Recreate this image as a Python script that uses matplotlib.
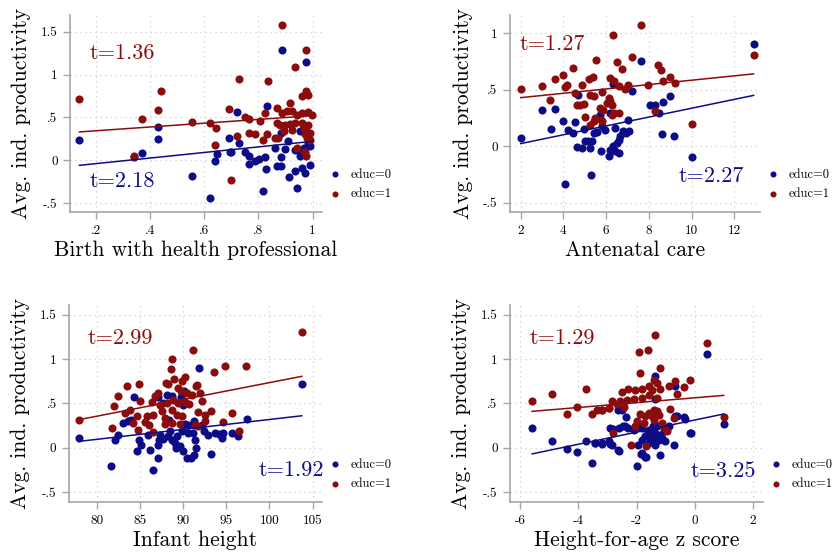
import numpy as np
import matplotlib
matplotlib.use("Agg")
from matplotlib import pyplot as plt

plt.rcParams['font.family'] = ['cmr10', 'DejaVu Serif']
plt.rcParams['axes.unicode_minus'] = False

navy = '#0c0c88'
maroon = '#8a0c0c'

# ---- panel 1: birth with health professional
p1_x0 = [0.831, 0.723, 0.693, 0.730, 0.700, 0.749, 0.767, 0.767, 0.788, 0.804, 0.825, 0.829, 0.862, 0.868,
         0.883, 0.883, 0.899, 0.911, 0.936, 0.952, 0.954, 0.967, 0.982, 0.989, 0.961, 0.936, 0.914, 0.942,
         0.973, 0.989, 0.817, 0.883, 0.954, 0.973, 0.985, 0.973, 0.889, 0.975, 0.14, 0.43, 0.43, 0.37,
         0.34, 0.555, 0.62, 0.64, 0.647, 0.696]
p1_y0 = [0.635, 0.56, 0.26, 0.20, 0.10, 0.10, 0.05, -0.045, -0.014, 0.013, 0.032, -0.10, 0.14, -0.073,
         -0.073, 0.032, 0.133, 0.226, 0.12, 0.044, 0.094, 0.14, 0.30, 0.16, -0.092, -0.13, -0.197, -0.325,
         -0.15, -0.053, -0.364, 0.316, 0.335, 0.355, 0.20, 0.063, 1.287, 1.151, 0.24, 0.39, 0.245, 0.08,
         0.04, -0.18, -0.44, -0.015, 0.075, 0.10]
p1_x1 = [0.889, 0.975, 0.937, 0.730, 0.834, 0.975, 0.961, 0.985, 0.918, 0.868, 0.887, 0.905, 0.924, 0.942,
         0.961, 0.985, 0.998, 0.693, 0.751, 0.767, 0.807, 0.825, 0.868, 0.881, 0.899, 0.918, 0.936, 0.961,
         0.967, 0.985, 0.991, 0.764, 0.788, 0.723, 0.817, 0.831, 0.860, 0.874, 0.893, 0.924, 0.973, 0.979,
         0.991, 0.942, 0.973, 0.977, 0.700, 0.14, 0.44, 0.43, 0.37, 0.34, 0.555, 0.62, 0.645, 0.64]
p1_y1 = [1.58, 1.29, 1.09, 0.945, 0.93, 0.81, 0.75, 0.76, 0.665, 0.615, 0.55, 0.57, 0.58, 0.53,
         0.55, 0.56, 0.53, 0.595, 0.50, 0.48, 0.46, 0.55, 0.43, 0.41, 0.41, 0.42, 0.43, 0.43,
         0.375, 0.41, 0.32, 0.32, 0.30, 0.285, 0.23, 0.31, 0.26, 0.26, 0.335, 0.355, 0.30, 0.26,
         0.24, 0.14, 0.095, 0.045, -0.236, 0.71, 0.81, 0.59, 0.48, 0.05, 0.44, 0.43, 0.38, 0.18]
p1_fit_x = [0.14, 1.0]
p1_fit0 = [-0.06, 0.22]
p1_fit1 = [0.33, 0.52]

# ---- panel 2: antenatal care
p2_x0 = [7.64, 6.31, 7.20, 4.70, 2.98, 3.61, 8.06, 8.30, 8.66, 9.00, 8.45, 3.97, 3.42, 4.55, 4.23, 4.47,
         4.94, 5.41, 5.56, 5.69, 5.80, 5.95, 6.19, 6.42, 7.00, 6.78, 6.94, 7.05, 6.66, 6.58, 6.50, 6.34,
         6.19, 6.42, 6.62, 6.11, 5.02, 5.17, 5.33, 5.25, 4.86, 4.62, 5.77, 8.61, 9.16, 5.28, 4.08, 2.0,
         12.9, 10.02]
p2_y0 = [0.756, 0.553, 0.491, 0.45, 0.324, 0.33, 0.368, 0.368, 0.391, 0.441, 0.29, 0.221, 0.156, 0.215,
         0.147, 0.118, 0.156, 0.118, 0.127, 0.28, 0.177, 0.147, 0.294, 0.162, 0.236, 0.133, 0.118, 0.133,
         0.088, 0.059, 0.03, 0.0, -0.03, -0.044, -0.059, -0.088, 0.044, 0.044, 0.044, -0.014, -0.014,
         -0.009, -0.038, 0.109, 0.088, -0.25, -0.33, 0.074, 0.90, -0.09]
p2_x1 = [7.64, 6.31, 5.53, 4.47, 3.97, 3.61, 2.98, 6.53, 6.73, 7.20, 8.41, 8.56, 8.97, 8.66, 9.20, 7.98,
         7.02, 6.86, 6.58, 6.19, 6.37, 5.22, 5.37, 4.86, 4.19, 4.08, 4.55, 5.25, 5.41, 5.80, 6.03, 6.11,
         6.19, 6.27, 5.84, 5.69, 4.94, 4.62, 4.78, 3.38, 5.02, 5.41, 5.48, 5.75, 6.37, 6.62, 6.27, 5.25,
         5.80, 8.30, 10.02, 12.9, 2.0]
p2_y1 = [1.074, 0.98, 0.765, 0.69, 0.633, 0.594, 0.535, 0.744, 0.686, 0.79, 0.721, 0.677, 0.609, 0.58,
         0.56, 0.544, 0.544, 0.509, 0.535, 0.603, 0.574, 0.597, 0.612, 0.544, 0.538, 0.52, 0.471, 0.456,
         0.441, 0.48, 0.383, 0.427, 0.397, 0.368, 0.324, 0.338, 0.374, 0.368, 0.362, 0.412, 0.256, 0.221,
         0.25, 0.236, 0.294, 0.294, 0.28, 0.191, 0.227, 0.309, 0.20, 0.81, 0.509]
p2_fit_x = [2.0, 12.9]
p2_fit0 = [0.024, 0.45]
p2_fit1 = [0.43, 0.64]

# ---- panel 3: infant height
p3_x0 = [91.87, 84.37, 83.10, 83.67, 83.98, 82.52, 82.13, 81.67, 84.64, 85.14, 84.95, 86.0, 86.19, 87.15,
         86.57, 87.15, 87.23, 87.35, 87.73, 88.23, 88.50, 88.70, 89.08, 89.20, 89.66, 90.05, 90.44, 90.94,
         91.33, 91.48, 91.21, 91.40, 90.55, 89.86, 89.28, 90.24, 90.63, 91.33, 92.18, 92.48, 92.95, 93.26,
         93.72, 94.57, 94.69, 95.65, 96.35, 97.39, 87.15, 87.73, 88.12, 88.70, 90.17, 89.78, 90.05, 88.39,
         78.0, 103.76, 94.2]
p3_y0 = [0.898, 0.571, 0.278, 0.297, 0.316, 0.146, 0.09, -0.21, -0.034, 0.033, 0.09, 0.146, -0.023, -0.117,
         -0.248, 0.033, 0.09, 0.146, 0.101, 0.128, 0.191, 0.09, 0.052, -0.004, 0.015, -0.034, -0.117, -0.117,
         -0.079, -0.004, 0.165, 0.09, 0.165, 0.184, 0.128, 0.267, 0.259, 0.297, 0.259, 0.191, 0.146, -0.071,
         0.165, 0.109, 0.165, 0.165, 0.128, 0.327, 0.567, 0.504, 0.598, 0.579, 0.635, 0.567, 0.485, 0.316,
         0.11, 0.72, 0.155]
p3_x1 = [91.13, 88.77, 88.62, 94.88, 97.31, 93.64, 90.24, 89.01, 89.93, 88.04, 88.31, 84.95, 83.56, 91.67,
         91.48, 91.98, 91.09, 90.51, 89.47, 89.74, 87.07, 86.77, 82.52, 85.03, 86.38, 87.35, 88.12, 88.89,
         89.39, 90.24, 90.71, 92.18, 82.05, 83.87, 83.29, 84.64, 85.80, 86.57, 87.54, 87.93, 88.70, 89.28,
         89.86, 91.79, 92.56, 93.26, 95.65, 92.56, 91.40, 87.93, 88.70, 84.25, 85.61, 86.11, 84.83, 89.66,
         81.74, 96.43, 86.57, 91.79, 78.0, 103.76, 94.6]
p3_y1 = [1.105, 1.0, 0.891, 0.917, 0.917, 0.853, 0.793, 0.774, 0.748, 0.729, 0.718, 0.722, 0.699, 0.71,
         0.692, 0.616, 0.59, 0.616, 0.673, 0.643, 0.616, 0.579, 0.579, 0.53, 0.515, 0.485, 0.504, 0.541,
         0.504, 0.515, 0.492, 0.53, 0.474, 0.428, 0.391, 0.353, 0.353, 0.365, 0.41, 0.334, 0.428, 0.372,
         0.353, 0.402, 0.372, 0.41, 0.391, 0.297, 0.259, 0.267, 0.278, 0.278, 0.289, 0.259, 0.203, 0.267,
         0.222, 0.184, 0.176, 0.241, 0.31, 1.30, 0.29]
p3_fit_x = [77.95, 103.76]
p3_fit0 = [0.071, 0.36]
p3_fit1 = [0.316, 0.805]

# ---- panel 4: height-for-age z score
p4_x0 = [-1.381, -0.67, -1.38, -2.367, -2.619, -0.613, -0.384, -2.905, -2.596, -2.447, -2.275, -2.069,
         -1.931, -1.817, -1.564, -1.45, -1.301, -1.072, -0.9, -1.61, -1.473, -1.358, -1.186, -1.702, -1.53,
         -1.415, -1.243, -1.129, -1.014, -1.817, -1.587, -1.358, -1.954, -0.728, -0.155, -1.817, -1.702,
         -1.186, -1.988, -2.619, -3.192, -2.905, -3.42, -5.58, -4.89, -4.40, -4.03, -3.74, -3.53, -3.42,
         -3.19, -2.94, -2.85, -2.6, -2.4, -2.5, 0.42, 1.0, -0.13, -0.68, -0.34, -1.85, -1.68, -2.81]
p4_y0 = [0.805, 0.692, 0.55, 0.346, 0.421, 0.361, 0.346, 0.222, 0.222, 0.241, 0.222, 0.203, 0.241, 0.222,
         0.203, 0.241, 0.248, 0.185, 0.248, 0.166, 0.147, 0.166, 0.147, 0.128, 0.109, 0.098, 0.091, 0.109,
         0.072, 0.083, 0.053, 0.034, 0.034, 0.034, 0.166, -0.06, -0.105, -0.079, -0.21, -0.03, 0.046, 0.046,
         0.053, 0.22, 0.08, -0.015, -0.05, 0.08, -0.17, 0.05, 0.05, 0.08, 0.03, -0.04, 0.25, 0.43, 1.06,
         0.27, 0.16, 0.36, 0.32, -0.07, -0.11, 0.21]
p4_x1 = [-1.381, -1.931, -1.61, -1.186, -1.874, -0.67, -0.384, -0.155, -0.877, -1.415, -1.301, -1.587,
         -1.473, -1.186, -1.817, -2.046, -2.275, -2.504, -2.069, -1.817, -1.587, -1.301, -2.332, -2.561,
         -2.848, -2.676, -2.412, -2.94, -3.192, -3.364, -0.842, -1.587, -1.415, -1.301, -1.243, -1.473,
         -1.702, -1.874, -0.728, -1.988, -1.759, -1.415, -1.129, -2.046, -1.072, -0.957, -1.679, -2.183,
         -5.58, -4.89, -4.40, -4.03, -3.74, -3.53, -3.19, -2.94, -2.81, 0.42, 1.0, -0.62]
p4_y1 = [1.275, 1.079, 1.098, 0.899, 0.842, 0.756, 0.685, 0.76, 0.692, 0.76, 0.73, 0.692, 0.655, 0.662,
         0.666, 0.655, 0.666, 0.628, 0.553, 0.561, 0.598, 0.561, 0.542, 0.523, 0.523, 0.497, 0.459, 0.448,
         0.429, 0.429, 0.437, 0.392, 0.429, 0.41, 0.373, 0.354, 0.354, 0.38, 0.335, 0.297, 0.279, 0.316,
         0.279, 0.248, 0.222, 0.185, 0.015, 0.034, 0.53, 0.61, 0.38, 0.46, 0.66, 0.38, 0.43, 0.45, 0.16,
         1.18, 0.35, 0.61]
p4_fit_x = [-5.58, 0.99]
p4_fit0 = [-0.07, 0.38]
p4_fit1 = [0.41, 0.59]

xlabels = ['Birth with health professional', 'Antenatal care', 'Infant height', 'Height-for-age z score']
t_red = ['t=1.36', 't=1.27', 't=2.99', 't=1.29']
t_blue = ['t=2.18', 't=2.27', 't=1.92', 't=3.25']

xticks = [[0.2, 0.4, 0.6, 0.8, 1.0], [2, 4, 6, 8, 10, 12], [80, 85, 90, 95, 100, 105], [-6, -4, -2, 0, 2]]
xticklabels = [['.2', '.4', '.6', '.8', '1'], ['2', '4', '6', '8', '10', '12'],
               ['80', '85', '90', '95', '100', '105'], ['-6', '-4', '-2', '0', '2']]
yticks = [[-0.5, 0, 0.5, 1, 1.5], [-0.5, 0, 0.5, 1], [-0.5, 0, 0.5, 1, 1.5], [-0.5, 0, 0.5, 1, 1.5]]
yticklabels = [['-.5', '0', '.5', '1', '1.5'], ['-.5', '0', '.5', '1'],
               ['-.5', '0', '.5', '1', '1.5'], ['-.5', '0', '.5', '1', '1.5']]

fig = plt.figure(figsize=(8.39, 5.57), dpi=100)

# axes boxes in pixels: left, top, right, bottom
boxes = [(70, 15, 322, 212), (510, 15, 760, 212), (69, 305, 322, 502), (510, 305, 763, 502)]
xlims = [(0.105, 1.035), (1.5, 13.2), (76.8, 106.1), (-6.34, 2.34)]
ylims = [(-0.605, 1.695), (-0.58, 1.16), (-0.613, 1.61), (-0.613, 1.61)]
tpos_red = [(0.179, 1.25), (1.97, 0.90), (78.9, 1.24), (-5.66, 1.24)]
tpos_blue = [(0.179, -0.25), (9.39, -0.265), (98.75, -0.256), (-0.13, -0.265)]

panels = [
    (p1_x0, p1_y0, p1_x1, p1_y1, p1_fit_x, p1_fit0, p1_fit1),
    (p2_x0, p2_y0, p2_x1, p2_y1, p2_fit_x, p2_fit0, p2_fit1),
    (p3_x0, p3_y0, p3_x1, p3_y1, p3_fit_x, p3_fit0, p3_fit1),
    (p4_x0, p4_y0, p4_x1, p4_y1, p4_fit_x, p4_fit0, p4_fit1),
]

W, H = 839, 557
for i, (x0, y0, x1, y1, fx, f0, f1) in enumerate(panels):
    l, t, r, b = boxes[i]
    ax = fig.add_axes([l / W, 1 - b / H, (r - l) / W, (b - t) / H])
    ax.scatter(x0, y0, s=34, color=navy, linewidths=0, label='educ=0', zorder=3)
    ax.scatter(x1, y1, s=34, color=maroon, linewidths=0, label='educ=1', zorder=3)
    ax.plot(fx, f1, color=maroon, lw=1.1, zorder=4)
    ax.plot(fx, f0, color=navy, lw=1.1, zorder=4)
    ax.set_xlim(*xlims[i])
    ax.set_ylim(*ylims[i])
    ax.set_xticks(xticks[i])
    ax.set_xticklabels(xticklabels[i])
    ax.set_yticks(yticks[i])
    ax.set_yticklabels(yticklabels[i])
    ax.grid(True, linestyle=(0, (1, 3)), color='#cfcfcf', linewidth=0.9)
    ax.set_axisbelow(True)
    for sp in ['top', 'right']:
        ax.spines[sp].set_visible(False)
    for sp in ['left', 'bottom']:
        ax.spines[sp].set_color('#a5a5a5')
        ax.spines[sp].set_linewidth(1.2)
    ax.tick_params(direction='out', length=5, width=1, color='#a5a5a5', labelsize=9.5, pad=4)
    ax.set_xlabel(xlabels[i], fontsize=15.5, labelpad=3)
    ax.set_ylabel('Avg. ind. productivity', fontsize=15.5, labelpad=7)
    ax.text(*tpos_red[i], t_red[i], color=maroon, fontsize=16, ha='left', va='center')
    ax.text(*tpos_blue[i], t_blue[i], color=navy, fontsize=16, ha='left', va='center')
    ax.legend(loc='center left', bbox_to_anchor=(1.0, 0.14), frameon=False, fontsize=9,
              markerscale=0.75, handletextpad=0.8, labelspacing=0.6, handlelength=0.9,
              borderaxespad=0.2)

fig.savefig('out.png', dpi=100)
